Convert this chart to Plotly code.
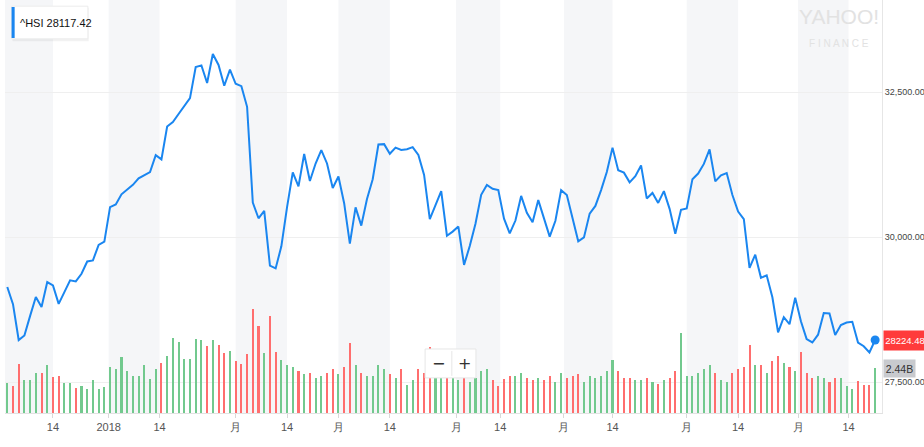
import numpy as np
import pandas as pd
import plotly.graph_objects as go

# ---------------- data ----------------
hk_holidays = ["2017-12-25", "2017-12-26", "2018-01-01", "2018-02-16", "2018-02-19",
               "2018-03-30", "2018-04-02", "2018-04-05", "2018-05-01", "2018-05-22",
               "2018-06-18", "2018-07-02"]
dates = [d for d in pd.bdate_range("2017-12-04", "2018-07-20")
         if d.strftime("%Y-%m-%d") not in hk_holidays]

closes = [
    # Dec 2017
    29138, 28842, 28224, 28303, 28640, 28965, 28793, 29222, 29166, 28848, 29050, 29253,
    29234, 29367, 29578, 29597, 29864, 29919,
    # Jan 2018
    30515, 30560, 30736, 30814, 30899, 31011, 31073, 31120, 31412, 31338, 31904, 31983,
    32121, 32254, 32393, 32930, 32959, 32654, 33154, 32967, 32607, 32887,
    # Feb
    32642, 32601, 32245, 30595, 30323, 30451, 29507, 29459, 29839, 30516, 31115, 30873,
    31431, 30965, 31267, 31499, 31268, 30845,
    # Mar
    31044, 30583, 29886, 30511, 30197, 30655, 30996, 31594, 31601, 31435, 31541, 31502,
    31513, 31549, 31414, 31071, 30309, 30548, 30790, 30022, 30093,
    # Apr
    30180, 29519, 29844, 30229, 30728, 30897, 30831, 30809, 30316, 30063, 30284, 30708,
    30418, 30254, 30636, 30329, 30007, 30280, 30808,
    # May
    30724, 30313, 29927, 29994, 30403, 30536, 30809, 31122, 31541, 31152, 31110, 30942,
    31047, 31234, 30665, 30760, 30588, 30792, 30485, 30056, 30468,
    # Jun
    30492, 30997, 31094, 31260, 31512, 30958, 31063, 31103, 30725, 30440, 30309, 29468,
    29696, 29296, 29339, 28961, 28356, 28617, 28497, 28955,
    # Jul
    28546, 28241, 28182, 28316, 28688, 28682, 28311, 28481, 28525, 28539, 28181, 28117,
    28010, 28224.48,
]

volumes_b = [
    # Dec
    1.65, 1.47, 2.66, 1.80, 1.80, 2.17, 2.17, 2.60, 1.97, 2.03, 1.65, 1.65, 1.35, 1.47,
    1.30, 1.80, 1.30, 1.41,
    # Jan
    2.50, 2.38, 3.06, 2.30, 2.00, 2.00, 2.60, 1.85, 2.38, 2.73, 3.11, 4.09, 3.84, 2.93,
    2.93, 4.02, 3.97, 3.64, 3.97, 3.70, 3.28, 3.39,
    # Feb
    2.83, 2.65, 3.20, 5.64, 4.73, 3.26, 5.30, 3.30, 2.90, 2.60, 2.50, 2.30, 2.10, 2.20,
    1.90, 2.00, 2.20, 2.40,
    # Mar
    2.10, 2.50, 3.80, 2.60, 2.20, 2.00, 2.00, 2.60, 2.40, 2.10, 1.90, 2.40, 1.50, 1.80,
    2.40, 2.20, 3.60, 2.30, 2.00, 2.40, 2.00,
    # Apr
    1.80, 2.50, 1.70, 1.90, 2.30, 2.40, 1.80, 1.45, 1.85, 2.00, 2.00, 2.20, 1.90, 1.80,
    1.90, 1.80, 2.00, 1.70, 2.20,
    # May
    1.90, 2.00, 2.10, 1.70, 2.00, 1.90, 2.00, 2.30, 2.90, 2.30, 1.90, 1.90, 1.80, 1.80,
    1.90, 1.70, 1.60, 1.80, 1.90, 2.30, 4.35,
    # Jun
    2.00, 2.00, 2.20, 2.40, 2.60, 2.20, 1.80, 1.70, 2.20, 2.40, 2.50, 3.70, 2.60, 2.60,
    2.20, 2.80, 3.10, 2.70, 2.50, 2.30,
    # Jul
    3.30, 2.16, 1.90, 2.00, 1.92, 1.70, 1.88, 1.88, 1.47, 1.28, 1.74, 1.52, 1.52, 2.44,
]

tick_dates = ["2017-12-14", "2018-01-01", "2018-01-14", "2018-02-01", "2018-02-14",
              "2018-03-01", "2018-03-14", "2018-04-01", "2018-04-14", "2018-05-01",
              "2018-05-14", "2018-06-01", "2018-06-14", "2018-07-01", "2018-07-14"]
tick_labels = ["14", "2018", "14", "月", "14", "月", "14", "月", "14", "月",
               "14", "月", "14", "月", "14"]
band_starts = ["2017-12-01", "2018-01-01", "2018-02-01", "2018-03-01", "2018-04-01",
               "2018-05-01", "2018-06-01", "2018-07-01"]
band_ends = ["2017-12-14", "2018-01-14", "2018-02-14", "2018-03-14", "2018-04-14",
             "2018-05-14", "2018-06-14", "2018-07-14"]

legend_text = "^HSI 28117.42"
last_volume_label = "2.44B"

assert len(dates) == len(closes) == len(volumes_b)

# ---------------- helpers ----------------
idx = np.arange(len(dates))
ords = np.array([d.toordinal() for d in dates], dtype=float)
X0, X1 = -0.4, 153.2


def pos(ds):
    o = pd.Timestamp(ds).toordinal()
    if o < ords[0]:
        return X0
    return float(np.interp(o, ords, idx))


tickvals = [pos(d) for d in tick_dates]
vol = [v * 1e9 for v in volumes_b]
colors = ["#72c98e"] + ["#72c98e" if closes[i] >= closes[i - 1] else "#ff6e6e"
                        for i in range(1, len(closes))]

FONT = "Liberation Sans, Arial, sans-serif"
BLUE = "#1a86f0"

fig = go.Figure()
fig.add_trace(go.Bar(x=idx, y=vol, marker=dict(color=colors, line=dict(width=0)),
                     width=0.36, yaxis="y", hoverinfo="skip", showlegend=False))
fig.add_trace(go.Scatter(x=idx, y=closes, mode="lines", yaxis="y2",
                         line=dict(color=BLUE, width=2), showlegend=False))
fig.add_trace(go.Scatter(x=[idx[-1]], y=[closes[-1]], mode="markers", yaxis="y2",
                         marker=dict(color=BLUE, size=9), showlegend=False))

shapes = []
for s, e in zip(band_starts, band_ends):
    shapes.append(dict(type="rect", xref="x", yref="paper", x0=pos(s), x1=pos(e),
                       y0=0, y1=1, fillcolor="#f5f6f8", line=dict(width=0), layer="below"))

# legend box (top-left) with a soft shadow
shapes.append(dict(type="rect", xref="paper", yref="paper", x0=0.0085, x1=0.0955,
                   y0=0.900, y1=0.981, fillcolor="rgba(0,0,0,0.05)",
                   line=dict(width=0), layer="above"))
shapes.append(dict(type="rect", xref="paper", yref="paper", x0=0.0075, x1=0.0945,
                   y0=0.906, y1=0.985, fillcolor="white",
                   line=dict(color="#ececec", width=1), layer="above"))
shapes.append(dict(type="rect", xref="paper", yref="paper", x0=0.0075, x1=0.0110,
                   y0=0.908, y1=0.983, fillcolor=BLUE, line=dict(width=0), layer="above"))
# zoom buttons
shapes.append(dict(type="rect", xref="paper", yref="paper", x0=0.479, x1=0.537,
                   y0=0.085, y1=0.155, fillcolor="white",
                   line=dict(color="#e6e6e6", width=1), layer="above"))
shapes.append(dict(type="line", xref="paper", yref="paper", x0=0.5095, x1=0.5095,
                   y0=0.09, y1=0.15, line=dict(color="#e6e6e6", width=1), layer="above"))

annotations = [
    dict(text=legend_text, xref="paper", yref="paper", x=0.0150, y=0.945,
         xanchor="left", yanchor="middle", showarrow=False,
         font=dict(family=FONT, size=11, color="#111")),
    dict(text="YAHOO!", xref="paper", yref="paper", x=0.9505, y=0.960,
         xanchor="center", yanchor="middle", showarrow=False,
         font=dict(family=FONT, size=21, color="#e2e2e2")),
    dict(text="F I N A N C E", xref="paper", yref="paper", x=0.9505, y=0.895,
         xanchor="center", yanchor="middle", showarrow=False,
         font=dict(family=FONT, size=10, color="#e2e2e2")),
    dict(text="−", xref="paper", yref="paper", x=0.4945, y=0.12,
         xanchor="center", yanchor="middle", showarrow=False,
         font=dict(family="DejaVu Sans", size=16, color="#333")),
    dict(text="+", xref="paper", yref="paper", x=0.5235, y=0.12,
         xanchor="center", yanchor="middle", showarrow=False,
         font=dict(family="DejaVu Sans", size=16, color="#333")),
    dict(text=f"{closes[-1]:.2f}", xref="paper", yref="y2", x=1.0, y=closes[-1],
         xanchor="left", yanchor="middle", xshift=1, showarrow=False,
         bgcolor="#ff3b3b", borderpad=1, width=40, height=17, align="center",
         font=dict(family=FONT, size=9.5, color="white")),
    dict(text=last_volume_label, xref="paper", yref="y", x=1.0, y=vol[-1],
         xanchor="left", yanchor="middle", xshift=1, showarrow=False,
         bgcolor="#c8cace", borderpad=1, width=29, height=15, align="center",
         font=dict(family=FONT, size=10.5, color="#333")),
]

fig.update_layout(
    width=924, height=447, autosize=False,
    margin=dict(l=5, r=42, t=0, b=34, autoexpand=False),
    paper_bgcolor="white", plot_bgcolor="white",
    bargap=0, showlegend=False,
    xaxis=dict(range=[X0, X1], tickvals=tickvals, ticktext=tick_labels,
               ticks="outside", ticklen=4, tickcolor="#d8d8d8", automargin=False,
               showline=True, linecolor="#e2e2e2", showgrid=False, zeroline=False,
               tickfont=dict(family=FONT, size=11, color="#555")),
    yaxis=dict(range=[0, 22.45e9], visible=False, showgrid=False, zeroline=False,
               automargin=False),
    yaxis2=dict(overlaying="y", side="right", range=[26966, 34086],
                tickvals=[27500, 30000, 32500], tickformat=",.2f",
                showgrid=True, gridcolor="#efefef", zeroline=False,
                showline=True, linecolor="#e6e6e6", ticks="",
                ticklabelstandoff=0, automargin=False,
                tickfont=dict(family=FONT, size=9, color="#444")),
    shapes=shapes, annotations=annotations,
)

fig.write_html(
    "out.html",
    config={"displayModeBar": False, "responsive": False},
    post_script=("document.body.style.margin='0px';document.body.style.padding='0px';"
                 "document.documentElement.style.overflow='hidden';"
                 "document.body.style.overflow='hidden';"),
)
